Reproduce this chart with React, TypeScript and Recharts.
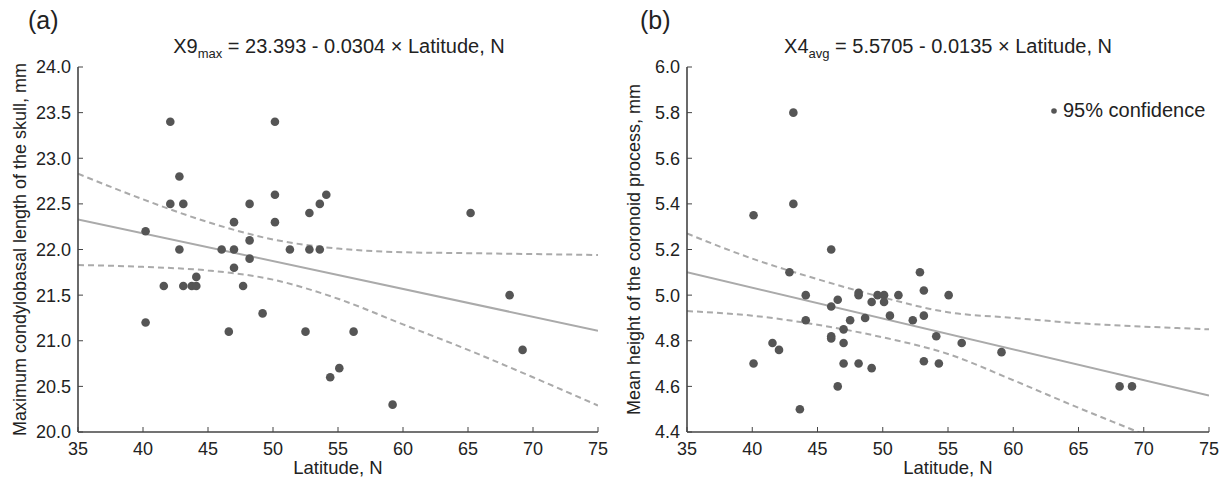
import React from 'react';
import { ComposedChart, Scatter, Line, XAxis, YAxis, Legend, Label } from 'recharts';

// ---- Panel (a): maximum condylobasal length vs latitude ----
const latitudeA = [
  40.2, 40.2, 41.6, 42.1, 42.1, 42.8, 42.8, 43.1, 43.1, 43.75, 44.1, 44.1, 46.05,
  46.6, 47.0, 47.0, 47.0, 47.7, 48.2, 48.2, 48.2, 49.2, 50.15, 50.15, 50.15, 51.3,
  52.5, 52.8, 52.8, 53.6, 53.6, 54.1, 54.4, 55.1, 56.2, 59.2, 65.2, 68.2, 69.2,
];
const lengthA = [
  22.2, 21.2, 21.6, 23.4, 22.5, 22.8, 22.0, 22.5, 21.6, 21.6, 21.6, 21.7, 22.0,
  21.1, 22.3, 22.0, 21.8, 21.6, 22.5, 22.1, 21.9, 21.3, 23.4, 22.6, 22.3, 22.0,
  21.1, 22.4, 22.0, 22.5, 22.0, 22.6, 20.6, 20.7, 21.1, 20.3, 22.4, 21.5, 20.9,
];

// ---- Panel (b): mean height of coronoid process vs latitude ----
const latitudeB = [
  40.1, 40.1, 41.55, 42.05, 42.85, 43.15, 43.15, 43.65, 44.1, 44.1, 46.05, 46.05,
  46.05, 46.05, 46.55, 46.55, 47.0, 47.0, 47.0, 47.5, 48.15, 48.15, 48.15, 48.65,
  49.15, 49.15, 49.6, 50.1, 50.1, 50.55, 51.2, 52.3, 52.85, 53.15, 53.15, 53.15,
  54.1, 54.3, 55.05, 56.05, 59.1, 68.15, 69.1,
];
const heightB = [
  5.35, 4.7, 4.79, 4.76, 5.1, 5.8, 5.4, 4.5, 5.0, 4.89, 5.2, 4.95,
  4.82, 4.81, 4.98, 4.6, 4.85, 4.79, 4.7, 4.89, 5.0, 5.01, 4.7, 4.9,
  4.97, 4.68, 5.0, 5.0, 4.97, 4.91, 5.0, 4.89, 5.1, 5.02, 4.91, 4.71,
  4.82, 4.7, 5.0, 4.79, 4.75, 4.6, 4.6,
];

// ---- Regression lines and 95% confidence bands ----
const fitLatitude = [35, 75];
const fitA = [22.33, 21.11];
const fitB = [5.1, 4.56];
const bandLatitude = [35, 40, 45, 50, 55, 60, 65, 70, 75];
const upperA = [22.83, 22.55, 22.3, 22.11, 22.01, 21.97, 21.96, 21.95, 21.94];
const lowerA = [21.83, 21.81, 21.77, 21.67, 21.46, 21.18, 20.9, 20.6, 20.29];
const upperB = [5.27, 5.16, 5.07, 4.99, 4.925, 4.9, 4.877, 4.862, 4.85];
const lowerB = [4.93, 4.91, 4.87, 4.815, 4.742, 4.627, 4.506, 4.39, 4.27];

// ---- Ticks ----
const xTicks = [35, 40, 45, 50, 55, 60, 65, 70, 75];
const yTicksA = [20, 20.5, 21, 21.5, 22, 22.5, 23, 23.5, 24];
const yTicksB = [4.4, 4.6, 4.8, 5.0, 5.2, 5.4, 5.6, 5.8, 6.0];

const FONT = '"Liberation Sans", Arial, Helvetica, sans-serif';
const TEXT = '#222';
const POINT = '#555';
const LINE = '#aaa';
const AXIS = '#444';
const TICK_LEN = 5;
const X_GAP = 10;
const Y_GAP = 7;

const Dot = (props: any) => {
  const { cx, cy } = props;
  if (cx == null || cy == null) return <g />;
  return <circle cx={cx} cy={cy} r={4.3} fill={POINT} />;
};

// bottom axis: label below, tick pointing inward (up)
const BottomTick = (props: any) => {
  const { x, y, payload } = props;
  const axisY = y - X_GAP;
  return (
    <g>
      <line x1={x} y1={axisY} x2={x} y2={axisY - TICK_LEN} stroke={AXIS} strokeWidth={1} />
      <text x={x} y={y} dy="0.71em" textAnchor="middle" fontSize={18} fill={TEXT}>
        {payload.value}
      </text>
    </g>
  );
};

// left axis: label left, tick pointing inward (right)
const LeftTick = (props: any) => {
  const { x, y, payload } = props;
  const axisX = x + Y_GAP;
  return (
    <g>
      <line x1={axisX} y1={y} x2={axisX + TICK_LEN} y2={y} stroke={AXIS} strokeWidth={1} />
      <text x={x} y={y} dy="0.355em" textAnchor="end" fontSize={18} fill={TEXT}>
        {Number(payload.value).toFixed(1)}
      </text>
    </g>
  );
};

// top axis: tick only, pointing down
const TopTick = (props: any) => {
  const { x, y } = props;
  return <line x1={x} y1={y} x2={x} y2={y + TICK_LEN} stroke={AXIS} strokeWidth={1} />;
};

// right axis: tick only, pointing left
const RightTick = (props: any) => {
  const { x, y } = props;
  return <line x1={x} y1={y} x2={x - TICK_LEN} y2={y} stroke={AXIS} strokeWidth={1} />;
};

type PanelProps = {
  left: number;
  width: number;
  marginLeft: number;
  marginRight: number;
  lat: number[];
  val: number[];
  fit: number[];
  upper: number[];
  lower: number[];
  yDomain: [number, number];
  yTicks: number[];
  yLabel: string;
  yLabelX: number;
  legend?: boolean;
};

function Panel(p: PanelProps) {
  const points = p.lat.map((x, i) => ({ x, y: p.val[i] }));
  const fitData = fitLatitude.map((x, i) => ({ x, fit: p.fit[i] }));
  const bandData = bandLatitude.map((x, i) => ({ x, upper: p.upper[i], lower: p.lower[i] }));

  return (
    <div style={{ position: 'absolute', left: p.left, top: 0 }}>
      <ComposedChart
        width={p.width}
        height={478}
        margin={{ top: 67, right: p.marginRight, bottom: 16, left: p.marginLeft }}
      >
        <XAxis
          xAxisId="b"
          type="number"
          dataKey="x"
          domain={[35, 75]}
          ticks={xTicks}
          interval={0}
          allowDataOverflow
          height={30}
          tickSize={0}
          tickMargin={X_GAP}
          axisLine={{ stroke: AXIS, strokeWidth: 1.6 }}
          tickLine={false}
          tick={BottomTick}
        >
          <Label
            content={(lp: any) => {
              const vb = lp.viewBox || {};
              return (
                <text x={vb.x + vb.width / 2} y={vb.y + 42} textAnchor="middle" fontSize={18.5} fill={TEXT}>
                  Latitude, N
                </text>
              );
            }}
          />
        </XAxis>
        <XAxis
          xAxisId="t"
          orientation="top"
          type="number"
          dataKey="x"
          domain={[35, 75]}
          ticks={xTicks}
          interval={0}
          height={0}
          tickSize={0}
          tickMargin={0}
          axisLine={{ stroke: '#555', strokeWidth: 1.2 }}
          tickLine={false}
          tick={TopTick}
        />
        <YAxis
          yAxisId="l"
          type="number"
          domain={p.yDomain}
          ticks={p.yTicks}
          interval={0}
          allowDataOverflow
          width={60}
          tickSize={0}
          tickMargin={Y_GAP}
          axisLine={{ stroke: AXIS, strokeWidth: 1.6 }}
          tickLine={false}
          tick={LeftTick}
        >
          <Label
            content={(lp: any) => {
              const vb = lp.viewBox || {};
              const cx = p.yLabelX;
              const cy = vb.y + vb.height / 2;
              return (
                <text
                  x={cx}
                  y={cy}
                  transform={`rotate(-90 ${cx} ${cy})`}
                  textAnchor="middle"
                  fontSize={18}
                  fill={TEXT}
                >
                  {p.yLabel}
                </text>
              );
            }}
          />
        </YAxis>
        <YAxis
          yAxisId="r"
          orientation="right"
          type="number"
          domain={p.yDomain}
          ticks={p.yTicks}
          interval={0}
          width={0}
          tickSize={0}
          tickMargin={0}
          axisLine={{ stroke: '#555', strokeWidth: 1.2 }}
          tickLine={false}
          tick={RightTick}
        />
        <Line
          xAxisId="b"
          yAxisId="l"
          data={bandData}
          dataKey="upper"
          type="monotone"
          stroke={LINE}
          strokeWidth={2}
          strokeDasharray="6 4"
          dot={false}
          activeDot={false}
          isAnimationActive={false}
          legendType="none"
        />
        <Line
          xAxisId="b"
          yAxisId="l"
          data={bandData}
          dataKey="lower"
          type="monotone"
          stroke={LINE}
          strokeWidth={2}
          strokeDasharray="6 4"
          dot={false}
          activeDot={false}
          isAnimationActive={false}
          legendType="none"
        />
        <Line
          xAxisId="b"
          yAxisId="l"
          data={fitData}
          dataKey="fit"
          type="linear"
          stroke={LINE}
          strokeWidth={2}
          dot={false}
          activeDot={false}
          isAnimationActive={false}
          legendType="none"
        />
        <Scatter
          xAxisId="b"
          yAxisId="l"
          data={points}
          dataKey="y"
          name="95% confidence"
          shape={Dot}
          isAnimationActive={false}
        />
        {p.legend && (
          <Legend
            layout="horizontal"
            verticalAlign="middle"
            align="center"
            wrapperStyle={{ top: 97, left: 436, width: 180, height: 30 }}
            content={() => (
              <svg width={180} height={30} style={{ display: 'block', overflow: 'visible' }}>
                <circle cx={6} cy={14} r={2.8} fill={POINT} />
                <text x={15} y={19.5} fontSize={20} fill={TEXT}>
                  95% confidence
                </text>
              </svg>
            )}
          />
        )}
      </ComposedChart>
    </div>
  );
}

export default function App() {
  return (
    <div
      style={{
        position: 'absolute',
        left: 0,
        top: 0,
        width: 1225,
        height: 478,
        background: '#fff',
        fontFamily: FONT,
        color: TEXT,
      }}
    >
      <Panel
        left={0}
        width={612}
        marginLeft={18}
        marginRight={14}
        lat={latitudeA}
        val={lengthA}
        fit={fitA}
        upper={upperA}
        lower={lowerA}
        yDomain={[20, 24]}
        yTicks={yTicksA}
        yLabel="Maximum condylobasal length of the skull, mm"
        yLabelX={26}
      />
      <Panel
        left={612}
        width={613}
        marginLeft={15}
        marginRight={16}
        lat={latitudeB}
        val={heightB}
        fit={fitB}
        upper={upperB}
        lower={lowerB}
        yDomain={[4.4, 6.0]}
        yTicks={yTicksB}
        yLabel="Mean height of the coronoid process, mm"
        yLabelX={28}
        legend
      />
      <svg
        width={1225}
        height={478}
        style={{ position: 'absolute', left: 0, top: 0, pointerEvents: 'none' }}
      >
        <text x={28} y={29} fontSize={25} fill={TEXT}>(a)</text>
        <text x={640} y={29} fontSize={25} fill={TEXT}>(b)</text>
        <text x={339} y={53} textAnchor="middle" fontSize={20} fill={TEXT}>
          X9<tspan fontSize={13} dy={5}>max</tspan>
          <tspan dy={-5}> = 23.393 - 0.0304 × Latitude, N</tspan>
        </text>
        <text x={948} y={53} textAnchor="middle" fontSize={20} fill={TEXT}>
          X4<tspan fontSize={13} dy={5}>avg</tspan>
          <tspan dy={-5}> = 5.5705 - 0.0135 × Latitude, N</tspan>
        </text>
      </svg>
    </div>
  );
}
